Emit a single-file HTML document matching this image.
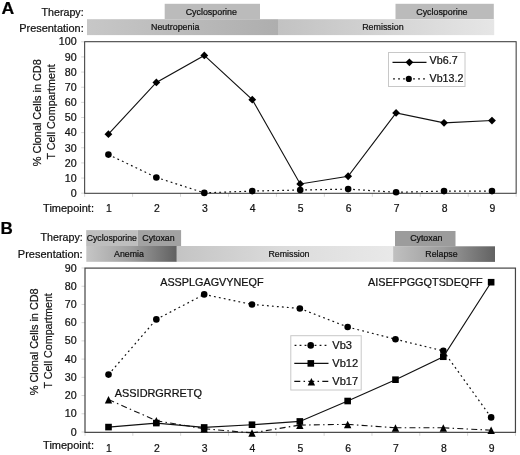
<!DOCTYPE html>
<html><head><meta charset="utf-8"><title>Figure</title>
<style>html,body{margin:0;padding:0;background:#fff;}body{width:520px;height:455px;overflow:hidden;font-family:"Liberation Sans", sans-serif;}svg{display:block;will-change:transform;}svg text{stroke:#111;stroke-width:0.22px;}</style>
</head><body>
<svg width="520" height="455" viewBox="0 0 520 455" font-family='"Liberation Sans", sans-serif'>
<defs>
<linearGradient id="gN" x1="0" x2="1"><stop offset="0" stop-color="#c7c7c7"/><stop offset="1" stop-color="#aeaeae"/></linearGradient>
<linearGradient id="gR" x1="0" x2="1"><stop offset="0" stop-color="#c2c2c2"/><stop offset="1" stop-color="#e6e6e6"/></linearGradient>
<linearGradient id="gAn" x1="0" x2="1"><stop offset="0" stop-color="#c6c6c6"/><stop offset="0.5" stop-color="#9e9e9e"/><stop offset="1" stop-color="#606060"/></linearGradient>
<linearGradient id="gRm" x1="0" x2="1"><stop offset="0" stop-color="#c4c4c4"/><stop offset="0.5" stop-color="#dcdcdc"/><stop offset="1" stop-color="#e9e9e9"/></linearGradient>
<linearGradient id="gRl" x1="0" x2="1"><stop offset="0" stop-color="#c0c0c0"/><stop offset="0.5" stop-color="#9c9c9c"/><stop offset="1" stop-color="#626262"/></linearGradient>
</defs>
<rect width="520" height="455" fill="#fff"/>
<text x="1.55" y="14.4" font-size="16" text-anchor="start" font-weight="bold" fill="#000" textLength="12.7" lengthAdjust="spacingAndGlyphs">A</text>
<text x="0.55" y="233.8" font-size="16.5" text-anchor="start" font-weight="bold" fill="#000" textLength="12.3" lengthAdjust="spacingAndGlyphs">B</text>
<text x="41.5" y="15.6" font-size="10.75" text-anchor="start" font-weight="normal" fill="#111" textLength="42.2" lengthAdjust="spacingAndGlyphs">Therapy:</text>
<text x="19.2" y="31.6" font-size="10.75" text-anchor="start" font-weight="normal" fill="#111" textLength="64.5" lengthAdjust="spacingAndGlyphs">Presentation:</text>
<rect x="164.7" y="3.8" width="95.3" height="15.2" fill="#bbbbbb"/>
<rect x="395.5" y="3.8" width="98.3" height="15.2" fill="#bbbbbb"/>
<rect x="87" y="19.2" width="191" height="15.9" fill="url(#gN)"/>
<rect x="278" y="19.2" width="216.2" height="15.9" fill="url(#gR)"/>
<text x="211.3" y="14.8" font-size="8.9" text-anchor="middle" font-weight="normal" fill="#111">Cyclosporine</text>
<text x="441.9" y="14.8" font-size="8.9" text-anchor="middle" font-weight="normal" fill="#111">Cyclosporine</text>
<text x="175.2" y="30" font-size="8.9" text-anchor="middle" font-weight="normal" fill="#111">Neutropenia</text>
<text x="382.9" y="30" font-size="8.9" text-anchor="middle" font-weight="normal" fill="#111">Remission</text>
<line x1="81.15" y1="193.20" x2="84.65" y2="193.20" stroke="#d6d6d6" stroke-width="1"/>
<text x="76.6" y="197.0" font-size="10.7" text-anchor="end" font-weight="normal" fill="#111">0</text>
<line x1="81.15" y1="178.06" x2="84.65" y2="178.06" stroke="#d6d6d6" stroke-width="1"/>
<text x="76.6" y="181.86" font-size="10.7" text-anchor="end" font-weight="normal" fill="#111">10</text>
<line x1="81.15" y1="162.92" x2="84.65" y2="162.92" stroke="#d6d6d6" stroke-width="1"/>
<text x="76.6" y="166.72" font-size="10.7" text-anchor="end" font-weight="normal" fill="#111">20</text>
<line x1="81.15" y1="147.78" x2="84.65" y2="147.78" stroke="#d6d6d6" stroke-width="1"/>
<text x="76.6" y="151.58" font-size="10.7" text-anchor="end" font-weight="normal" fill="#111">30</text>
<line x1="81.15" y1="132.64" x2="84.65" y2="132.64" stroke="#d6d6d6" stroke-width="1"/>
<text x="76.6" y="136.44" font-size="10.7" text-anchor="end" font-weight="normal" fill="#111">40</text>
<line x1="81.15" y1="117.50" x2="84.65" y2="117.50" stroke="#d6d6d6" stroke-width="1"/>
<text x="76.6" y="121.3" font-size="10.7" text-anchor="end" font-weight="normal" fill="#111">50</text>
<line x1="81.15" y1="102.36" x2="84.65" y2="102.36" stroke="#d6d6d6" stroke-width="1"/>
<text x="76.6" y="106.16" font-size="10.7" text-anchor="end" font-weight="normal" fill="#111">60</text>
<line x1="81.15" y1="87.22" x2="84.65" y2="87.22" stroke="#d6d6d6" stroke-width="1"/>
<text x="76.6" y="91.02" font-size="10.7" text-anchor="end" font-weight="normal" fill="#111">70</text>
<line x1="81.15" y1="72.08" x2="84.65" y2="72.08" stroke="#d6d6d6" stroke-width="1"/>
<text x="76.6" y="75.88" font-size="10.7" text-anchor="end" font-weight="normal" fill="#111">80</text>
<line x1="81.15" y1="56.94" x2="84.65" y2="56.94" stroke="#d6d6d6" stroke-width="1"/>
<text x="76.6" y="60.74" font-size="10.7" text-anchor="end" font-weight="normal" fill="#111">90</text>
<line x1="81.15" y1="41.80" x2="84.65" y2="41.80" stroke="#d6d6d6" stroke-width="1"/>
<text x="76.6" y="45.0" font-size="10.7" text-anchor="end" font-weight="normal" fill="#111">100</text>
<line x1="84.65" y1="193.3" x2="84.65" y2="196.8" stroke="#d6d6d6" stroke-width="1"/>
<line x1="132.59" y1="193.3" x2="132.59" y2="196.8" stroke="#d6d6d6" stroke-width="1"/>
<line x1="180.54" y1="193.3" x2="180.54" y2="196.8" stroke="#d6d6d6" stroke-width="1"/>
<line x1="228.48" y1="193.3" x2="228.48" y2="196.8" stroke="#d6d6d6" stroke-width="1"/>
<line x1="276.43" y1="193.3" x2="276.43" y2="196.8" stroke="#d6d6d6" stroke-width="1"/>
<line x1="324.37" y1="193.3" x2="324.37" y2="196.8" stroke="#d6d6d6" stroke-width="1"/>
<line x1="372.32" y1="193.3" x2="372.32" y2="196.8" stroke="#d6d6d6" stroke-width="1"/>
<line x1="420.26" y1="193.3" x2="420.26" y2="196.8" stroke="#d6d6d6" stroke-width="1"/>
<line x1="468.21" y1="193.3" x2="468.21" y2="196.8" stroke="#d6d6d6" stroke-width="1"/>
<line x1="516.15" y1="193.3" x2="516.15" y2="196.8" stroke="#d6d6d6" stroke-width="1"/>
<rect x="84.65" y="41.7" width="431.5" height="151.60000000000002" fill="none" stroke="#3c3c3c" stroke-width="1.05"/>
<text x="43.1" y="211.5" font-size="10.9" text-anchor="start" font-weight="normal" fill="#111" textLength="50.9" lengthAdjust="spacingAndGlyphs">Timepoint:</text>
<text x="108.92" y="211.5" font-size="10.4" text-anchor="middle" font-weight="normal" fill="#111">1</text>
<text x="156.87" y="211.5" font-size="10.4" text-anchor="middle" font-weight="normal" fill="#111">2</text>
<text x="204.81" y="211.5" font-size="10.4" text-anchor="middle" font-weight="normal" fill="#111">3</text>
<text x="252.76" y="211.5" font-size="10.4" text-anchor="middle" font-weight="normal" fill="#111">4</text>
<text x="300.7" y="211.5" font-size="10.4" text-anchor="middle" font-weight="normal" fill="#111">5</text>
<text x="348.64" y="211.5" font-size="10.4" text-anchor="middle" font-weight="normal" fill="#111">6</text>
<text x="396.59" y="211.5" font-size="10.4" text-anchor="middle" font-weight="normal" fill="#111">7</text>
<text x="444.53" y="211.5" font-size="10.4" text-anchor="middle" font-weight="normal" fill="#111">8</text>
<text x="492.48" y="211.5" font-size="10.4" text-anchor="middle" font-weight="normal" fill="#111">9</text>
<path d="M108.42 154.59L156.37 177.45" fill="none" stroke="#111" stroke-width="1.2" stroke-dasharray="1.80 3.20"/>
<path d="M156.37 177.45L204.31 192.90" fill="none" stroke="#111" stroke-width="1.2" stroke-dasharray="1.80 3.20"/>
<path d="M204.31 192.90L252.26 191.08" fill="none" stroke="#111" stroke-width="1.2" stroke-dasharray="1.80 3.20"/>
<path d="M252.26 191.08L300.20 190.02" fill="none" stroke="#111" stroke-width="1.2" stroke-dasharray="1.80 3.20"/>
<path d="M300.20 190.02L348.14 189.11" fill="none" stroke="#111" stroke-width="1.2" stroke-dasharray="1.80 3.20"/>
<path d="M348.14 189.11L396.09 192.29" fill="none" stroke="#111" stroke-width="1.2" stroke-dasharray="1.80 3.20"/>
<path d="M396.09 192.29L444.03 191.08" fill="none" stroke="#111" stroke-width="1.2" stroke-dasharray="1.80 3.20"/>
<path d="M444.03 191.08L491.98 191.08" fill="none" stroke="#111" stroke-width="1.2" stroke-dasharray="1.80 3.20"/>
<circle cx="108.42" cy="154.59" r="3.3" fill="#000"/>
<circle cx="156.37" cy="177.45" r="3.3" fill="#000"/>
<circle cx="204.31" cy="192.90" r="3.3" fill="#000"/>
<circle cx="252.26" cy="191.08" r="3.3" fill="#000"/>
<circle cx="300.20" cy="190.02" r="3.3" fill="#000"/>
<circle cx="348.14" cy="189.11" r="3.3" fill="#000"/>
<circle cx="396.09" cy="192.29" r="3.3" fill="#000"/>
<circle cx="444.03" cy="191.08" r="3.3" fill="#000"/>
<circle cx="491.98" cy="191.08" r="3.3" fill="#000"/>
<path d="M108.42 134.15L156.37 82.38L204.31 55.43L252.26 99.63L300.20 183.96L348.14 176.24L396.09 112.96L444.03 122.80L491.98 120.53" fill="none" stroke="#111" stroke-width="1.15"/>
<path d="M104.52 134.15L108.42 130.25L112.32 134.15L108.42 138.05Z" fill="#000"/>
<path d="M152.47 82.38L156.37 78.48L160.27 82.38L156.37 86.28Z" fill="#000"/>
<path d="M200.41 55.43L204.31 51.53L208.21 55.43L204.31 59.33Z" fill="#000"/>
<path d="M248.36 99.63L252.26 95.73L256.16 99.63L252.26 103.53Z" fill="#000"/>
<path d="M296.30 183.96L300.20 180.06L304.10 183.96L300.20 187.86Z" fill="#000"/>
<path d="M344.24 176.24L348.14 172.34L352.04 176.24L348.14 180.14Z" fill="#000"/>
<path d="M392.19 112.96L396.09 109.06L399.99 112.96L396.09 116.86Z" fill="#000"/>
<path d="M440.13 122.80L444.03 118.90L447.93 122.80L444.03 126.70Z" fill="#000"/>
<path d="M488.08 120.53L491.98 116.63L495.88 120.53L491.98 124.43Z" fill="#000"/>
<rect x="388.5" y="52.5" width="76.5" height="34" fill="#fff" stroke="#c8c8c8" stroke-width="1"/>
<line x1="392.5" y1="62.3" x2="426.5" y2="62.3" stroke="#111" stroke-width="1.15"/>
<path d="M405.50 62.30L409.40 58.40L413.30 62.30L409.40 66.20Z" fill="#000"/>
<line x1="393.1" y1="78.9" x2="425.5" y2="78.9" stroke="#111" stroke-width="1.2" stroke-dasharray="1.8 3.2"/>
<circle cx="408.80" cy="78.90" r="3.1" fill="#000"/>
<text x="429.6" y="64.3" font-size="10.4" text-anchor="start" font-weight="normal" fill="#111" textLength="28.0" lengthAdjust="spacingAndGlyphs">Vb6.7</text>
<text x="429.6" y="81.6" font-size="10.4" text-anchor="start" font-weight="normal" fill="#111" textLength="33.7" lengthAdjust="spacingAndGlyphs">Vb13.2</text>
<text transform="translate(41.2,112.7) rotate(-90)" font-size="10.9" text-anchor="middle" fill="#111" textLength="106.9" lengthAdjust="spacingAndGlyphs">% Clonal Cells in CD8</text>
<text transform="translate(55.0,111.9) rotate(-90)" font-size="10.9" text-anchor="middle" fill="#111" textLength="95.4" lengthAdjust="spacingAndGlyphs">T Cell Compartment</text>
<text x="40.5" y="240.9" font-size="10.9" text-anchor="start" font-weight="normal" fill="#111" textLength="42.2" lengthAdjust="spacingAndGlyphs">Therapy:</text>
<text x="17.8" y="257.9" font-size="10.9" text-anchor="start" font-weight="normal" fill="#111" textLength="64.9" lengthAdjust="spacingAndGlyphs">Presentation:</text>
<rect x="86.2" y="230.1" width="51.4" height="16" fill="#bebebe"/>
<rect x="137.6" y="230.1" width="43.5" height="16" fill="#a2a2a2"/>
<rect x="86.3" y="246" width="90.5" height="15.8" fill="url(#gAn)"/>
<rect x="176.8" y="246" width="217.7" height="15.8" fill="url(#gRm)"/>
<rect x="395" y="231" width="60.5" height="15.5" fill="#9c9c9c"/>
<rect x="393.2" y="246.3" width="101.8" height="15.6" fill="url(#gRl)"/>
<text x="86.8" y="240.9" font-size="8.8" text-anchor="start" font-weight="normal" fill="#111" textLength="50.0" lengthAdjust="spacingAndGlyphs">Cyclosporine</text>
<text x="142.3" y="240.9" font-size="8.8" text-anchor="start" font-weight="normal" fill="#111">Cytoxan</text>
<text x="129" y="256.9" font-size="8.8" text-anchor="middle" font-weight="normal" fill="#111">Anemia</text>
<text x="289" y="256.9" font-size="8.8" text-anchor="middle" font-weight="normal" fill="#111">Remission</text>
<text x="426.3" y="241.4" font-size="8.8" text-anchor="middle" font-weight="normal" fill="#111">Cytoxan</text>
<text x="441.5" y="256.9" font-size="8.8" text-anchor="middle" font-weight="normal" fill="#111">Relapse</text>
<line x1="81.5" y1="432.00" x2="85.0" y2="432.00" stroke="#d6d6d6" stroke-width="1"/>
<text x="76.6" y="435.55" font-size="10.7" text-anchor="end" font-weight="normal" fill="#111">0</text>
<line x1="81.5" y1="413.78" x2="85.0" y2="413.78" stroke="#d6d6d6" stroke-width="1"/>
<text x="76.6" y="417.33" font-size="10.7" text-anchor="end" font-weight="normal" fill="#111">10</text>
<line x1="81.5" y1="395.56" x2="85.0" y2="395.56" stroke="#d6d6d6" stroke-width="1"/>
<text x="76.6" y="399.11" font-size="10.7" text-anchor="end" font-weight="normal" fill="#111">20</text>
<line x1="81.5" y1="377.33" x2="85.0" y2="377.33" stroke="#d6d6d6" stroke-width="1"/>
<text x="76.6" y="380.88" font-size="10.7" text-anchor="end" font-weight="normal" fill="#111">30</text>
<line x1="81.5" y1="359.11" x2="85.0" y2="359.11" stroke="#d6d6d6" stroke-width="1"/>
<text x="76.6" y="362.66" font-size="10.7" text-anchor="end" font-weight="normal" fill="#111">40</text>
<line x1="81.5" y1="340.89" x2="85.0" y2="340.89" stroke="#d6d6d6" stroke-width="1"/>
<text x="76.6" y="344.44" font-size="10.7" text-anchor="end" font-weight="normal" fill="#111">50</text>
<line x1="81.5" y1="322.67" x2="85.0" y2="322.67" stroke="#d6d6d6" stroke-width="1"/>
<text x="76.6" y="326.22" font-size="10.7" text-anchor="end" font-weight="normal" fill="#111">60</text>
<line x1="81.5" y1="304.44" x2="85.0" y2="304.44" stroke="#d6d6d6" stroke-width="1"/>
<text x="76.6" y="307.99" font-size="10.7" text-anchor="end" font-weight="normal" fill="#111">70</text>
<line x1="81.5" y1="286.22" x2="85.0" y2="286.22" stroke="#d6d6d6" stroke-width="1"/>
<text x="76.6" y="289.77" font-size="10.7" text-anchor="end" font-weight="normal" fill="#111">80</text>
<line x1="81.5" y1="268.00" x2="85.0" y2="268.00" stroke="#d6d6d6" stroke-width="1"/>
<text x="76.6" y="271.55" font-size="10.7" text-anchor="end" font-weight="normal" fill="#111">90</text>
<line x1="85.00" y1="432.35" x2="85.00" y2="435.85" stroke="#d6d6d6" stroke-width="1"/>
<line x1="132.83" y1="432.35" x2="132.83" y2="435.85" stroke="#d6d6d6" stroke-width="1"/>
<line x1="180.66" y1="432.35" x2="180.66" y2="435.85" stroke="#d6d6d6" stroke-width="1"/>
<line x1="228.48" y1="432.35" x2="228.48" y2="435.85" stroke="#d6d6d6" stroke-width="1"/>
<line x1="276.31" y1="432.35" x2="276.31" y2="435.85" stroke="#d6d6d6" stroke-width="1"/>
<line x1="324.14" y1="432.35" x2="324.14" y2="435.85" stroke="#d6d6d6" stroke-width="1"/>
<line x1="371.97" y1="432.35" x2="371.97" y2="435.85" stroke="#d6d6d6" stroke-width="1"/>
<line x1="419.79" y1="432.35" x2="419.79" y2="435.85" stroke="#d6d6d6" stroke-width="1"/>
<line x1="467.62" y1="432.35" x2="467.62" y2="435.85" stroke="#d6d6d6" stroke-width="1"/>
<line x1="515.45" y1="432.35" x2="515.45" y2="435.85" stroke="#d6d6d6" stroke-width="1"/>
<rect x="85.0" y="268.1" width="430.45000000000005" height="164.25" fill="none" stroke="#444" stroke-width="1.2"/>
<text x="43.1" y="448.9" font-size="10.9" text-anchor="start" font-weight="normal" fill="#111" textLength="50.9" lengthAdjust="spacingAndGlyphs">Timepoint:</text>
<text x="109.01" y="451.5" font-size="10.4" text-anchor="middle" font-weight="normal" fill="#111">1</text>
<text x="156.84" y="451.5" font-size="10.4" text-anchor="middle" font-weight="normal" fill="#111">2</text>
<text x="204.67" y="451.5" font-size="10.4" text-anchor="middle" font-weight="normal" fill="#111">3</text>
<text x="252.5" y="451.5" font-size="10.4" text-anchor="middle" font-weight="normal" fill="#111">4</text>
<text x="300.33" y="451.5" font-size="10.4" text-anchor="middle" font-weight="normal" fill="#111">5</text>
<text x="348.15" y="451.5" font-size="10.4" text-anchor="middle" font-weight="normal" fill="#111">6</text>
<text x="395.98" y="451.5" font-size="10.4" text-anchor="middle" font-weight="normal" fill="#111">7</text>
<text x="443.81" y="451.5" font-size="10.4" text-anchor="middle" font-weight="normal" fill="#111">8</text>
<text x="491.64" y="451.5" font-size="10.4" text-anchor="middle" font-weight="normal" fill="#111">9</text>
<path d="M108.51 399.56L156.34 420.70" fill="none" stroke="#111" stroke-width="1.1" stroke-dasharray="6.00 3.25 1.50 3.25"/>
<path d="M156.34 420.70L204.17 428.72" fill="none" stroke="#111" stroke-width="1.1" stroke-dasharray="6.00 3.25 1.50 3.25"/>
<path d="M204.17 428.72L252.00 432.91" fill="none" stroke="#111" stroke-width="1.1" stroke-dasharray="6.00 3.25 1.50 3.25"/>
<path d="M252.00 432.91L299.83 425.08" fill="none" stroke="#111" stroke-width="1.1" stroke-dasharray="6.00 3.25 1.50 3.25"/>
<path d="M299.83 425.08L347.65 424.35" fill="none" stroke="#111" stroke-width="1.1" stroke-dasharray="6.00 3.25 1.50 3.25"/>
<path d="M347.65 424.35L395.48 427.81" fill="none" stroke="#111" stroke-width="1.1" stroke-dasharray="6.00 3.25 1.50 3.25"/>
<path d="M395.48 427.81L443.31 427.81" fill="none" stroke="#111" stroke-width="1.1" stroke-dasharray="6.00 3.25 1.50 3.25"/>
<path d="M443.31 427.81L491.14 430.18" fill="none" stroke="#111" stroke-width="1.1" stroke-dasharray="6.00 3.25 1.50 3.25"/>
<path d="M104.81 403.46L112.21 403.46L108.51 395.96Z" fill="#000"/>
<path d="M152.64 424.60L160.04 424.60L156.34 417.10Z" fill="#000"/>
<path d="M200.47 432.62L207.87 432.62L204.17 425.12Z" fill="#000"/>
<path d="M248.30 436.81L255.70 436.81L252.00 429.31Z" fill="#000"/>
<path d="M296.13 428.98L303.53 428.98L299.83 421.48Z" fill="#000"/>
<path d="M343.95 428.25L351.35 428.25L347.65 420.75Z" fill="#000"/>
<path d="M391.78 431.71L399.18 431.71L395.48 424.21Z" fill="#000"/>
<path d="M439.61 431.71L447.01 431.71L443.31 424.21Z" fill="#000"/>
<path d="M487.44 434.08L494.84 434.08L491.14 426.58Z" fill="#000"/>
<path d="M108.51 374.60L156.34 319.39" fill="none" stroke="#111" stroke-width="1.2" stroke-dasharray="1.80 3.20"/>
<path d="M156.34 319.39L204.17 294.42" fill="none" stroke="#111" stroke-width="1.2" stroke-dasharray="1.80 3.20"/>
<path d="M204.17 294.42L252.00 304.44" fill="none" stroke="#111" stroke-width="1.2" stroke-dasharray="1.80 3.20"/>
<path d="M252.00 304.44L299.83 308.45" fill="none" stroke="#111" stroke-width="1.2" stroke-dasharray="1.80 3.20"/>
<path d="M299.83 308.45L347.65 327.04" fill="none" stroke="#111" stroke-width="1.2" stroke-dasharray="1.80 3.20"/>
<path d="M347.65 327.04L395.48 339.25" fill="none" stroke="#111" stroke-width="1.2" stroke-dasharray="1.80 3.20"/>
<path d="M395.48 339.25L443.31 350.91" fill="none" stroke="#111" stroke-width="1.2" stroke-dasharray="1.80 3.20"/>
<path d="M443.31 350.91L491.14 417.42" fill="none" stroke="#111" stroke-width="1.2" stroke-dasharray="1.80 3.20"/>
<circle cx="108.51" cy="374.60" r="3.3" fill="#000"/>
<circle cx="156.34" cy="319.39" r="3.3" fill="#000"/>
<circle cx="204.17" cy="294.42" r="3.3" fill="#000"/>
<circle cx="252.00" cy="304.44" r="3.3" fill="#000"/>
<circle cx="299.83" cy="308.45" r="3.3" fill="#000"/>
<circle cx="347.65" cy="327.04" r="3.3" fill="#000"/>
<circle cx="395.48" cy="339.25" r="3.3" fill="#000"/>
<circle cx="443.31" cy="350.91" r="3.3" fill="#000"/>
<circle cx="491.14" cy="417.42" r="3.3" fill="#000"/>
<path d="M108.51 427.08L156.34 423.07L204.17 427.44L252.00 424.71L299.83 421.43L347.65 401.02L395.48 379.70L443.31 356.74L491.14 282.21" fill="none" stroke="#111" stroke-width="1.15"/>
<rect x="105.21" y="423.78" width="6.6" height="6.6" fill="#000"/>
<rect x="153.04" y="419.77" width="6.6" height="6.6" fill="#000"/>
<rect x="200.87" y="424.14" width="6.6" height="6.6" fill="#000"/>
<rect x="248.70" y="421.41" width="6.6" height="6.6" fill="#000"/>
<rect x="296.53" y="418.13" width="6.6" height="6.6" fill="#000"/>
<rect x="344.35" y="397.72" width="6.6" height="6.6" fill="#000"/>
<rect x="392.18" y="376.40" width="6.6" height="6.6" fill="#000"/>
<rect x="440.01" y="353.44" width="6.6" height="6.6" fill="#000"/>
<rect x="487.84" y="278.91" width="6.6" height="6.6" fill="#000"/>
<text x="160.2" y="286" font-size="10.5" text-anchor="start" font-weight="normal" fill="#111" textLength="103.4" lengthAdjust="spacingAndGlyphs">ASSPLGAGVYNEQF</text>
<text x="368" y="286" font-size="10.5" text-anchor="start" font-weight="normal" fill="#111" textLength="114.7" lengthAdjust="spacingAndGlyphs">AISEFPGGQTSDEQFF</text>
<text x="114.8" y="397.1" font-size="10.5" text-anchor="start" font-weight="normal" fill="#111" textLength="87.2" lengthAdjust="spacingAndGlyphs">ASSIDRGRRETQ</text>
<rect x="290.8" y="335.7" width="70.4" height="54.3" fill="#fff" stroke="#c8c8c8" stroke-width="1"/>
<line x1="294.6" y1="345.4" x2="327" y2="345.4" stroke="#111" stroke-width="1.2" stroke-dasharray="1.8 3.2"/>
<circle cx="310.70" cy="345.40" r="3.3" fill="#000"/>
<line x1="294.3" y1="363.4" x2="328.5" y2="363.4" stroke="#111" stroke-width="1.15"/>
<rect x="307.50" y="360.10" width="6.6" height="6.6" fill="#000"/>
<line x1="294.3" y1="381.4" x2="328.3" y2="381.4" stroke="#111" stroke-width="1.2" stroke-dasharray="6 3.25 1.5 3.25"/>
<path d="M307.70 385.60L315.10 385.60L311.40 378.10Z" fill="#000"/>
<text x="332.3" y="349.1" font-size="11.1" text-anchor="start" font-weight="normal" fill="#111">Vb3</text>
<text x="332.3" y="367.1" font-size="11.1" text-anchor="start" font-weight="normal" fill="#111">Vb12</text>
<text x="332.3" y="385.1" font-size="11.1" text-anchor="start" font-weight="normal" fill="#111">Vb17</text>
<text transform="translate(38.3,341.8) rotate(-90)" font-size="10.9" text-anchor="middle" fill="#111" textLength="106.9" lengthAdjust="spacingAndGlyphs">% Clonal Cells in CD8</text>
<text transform="translate(51.5,340.9) rotate(-90)" font-size="10.9" text-anchor="middle" fill="#111" textLength="95.4" lengthAdjust="spacingAndGlyphs">T Cell Compartment</text>
</svg>
</body></html>
